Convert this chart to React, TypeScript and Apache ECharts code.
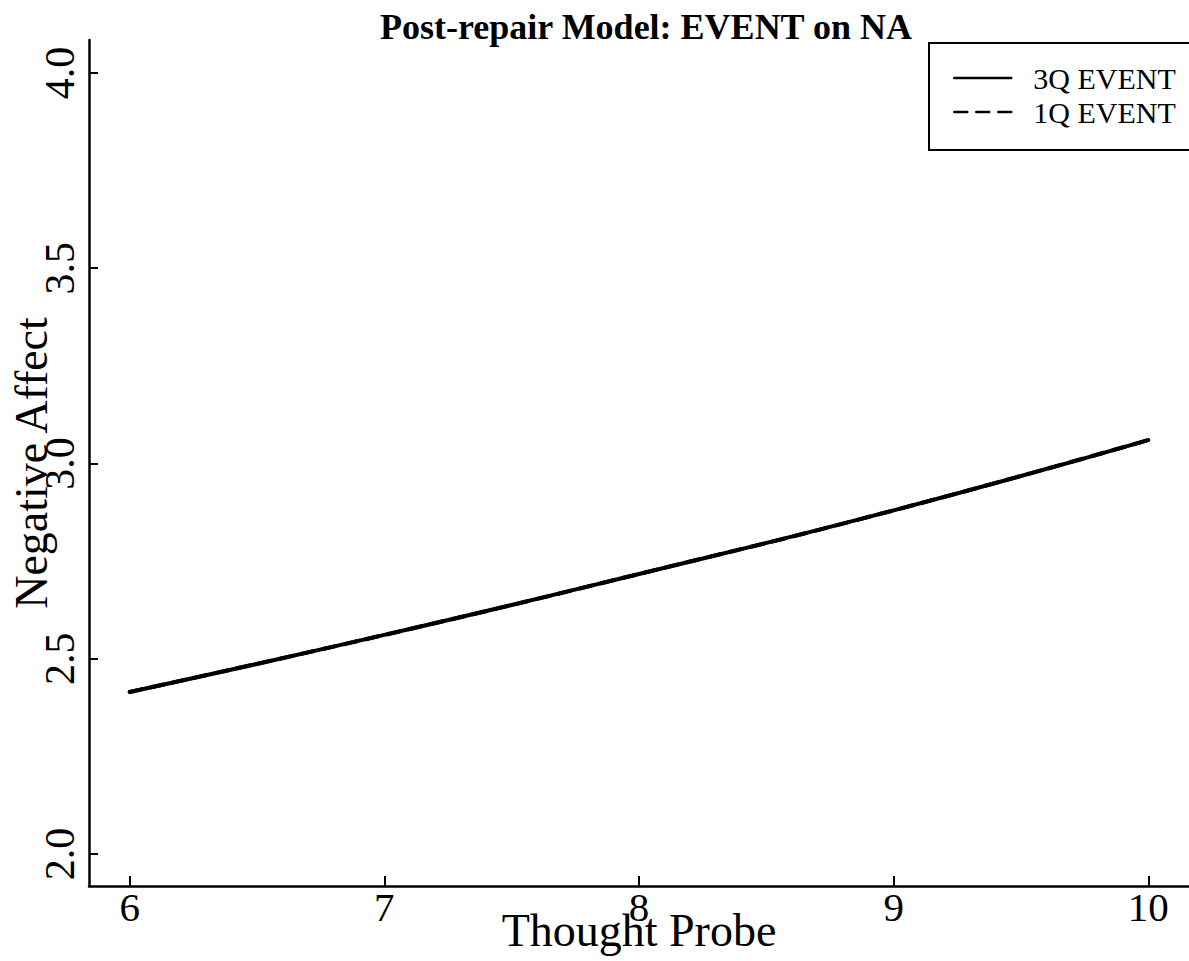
import React, { useEffect, useRef } from "react";
import * as echarts from "echarts";

const titleText = "Post-repair Model: EVENT on NA";
const xName = "Thought Probe";
const yName = "Negative Affect";
const seriesNames = ["3Q EVENT", "1Q EVENT"];
const xValues = [6, 7, 8, 9, 10];
const event3Q = [2.415, 2.561, 2.717, 2.88, 3.06];
const event1Q = [2.415, 2.561, 2.717, 2.88, 3.06];
const xTicks = [6, 7, 8, 9, 10];
const yTicks = [2.0, 2.5, 3.0, 3.5, 4.0];

const FONT = "'Liberation Serif', 'Times New Roman', serif";

export default function App() {
  const ref = useRef<HTMLDivElement>(null);
  useEffect(() => {
    if (!ref.current) return;
    const chart = echarts.init(ref.current, undefined, { renderer: "svg" });
    const pairs = (ys: number[]) => xValues.map((x, i) => [x, ys[i]]);
    const hiddenSymbol = { color: "rgba(0,0,0,0)", borderWidth: 0, opacity: 0 };
    chart.setOption({
      animation: false,
      backgroundColor: "#ffffff",
      textStyle: { fontFamily: FONT, color: "#000" },
      title: {
        text: titleText,
        left: 641,
        textAlign: "center",
        top: 4,
        textStyle: { fontFamily: FONT, fontWeight: "bold", fontSize: 36, color: "#000" },
      },
      legend: {
        orient: "vertical",
        left: 929,
        top: 43,
        padding: [20, 40, 23, 24],
        itemGap: 4,
        itemWidth: 57,
        itemHeight: 14,
        borderColor: "#000",
        borderWidth: 2,
        borderRadius: 0,
        itemStyle: hiddenSymbol,
        textStyle: { fontFamily: FONT, fontSize: 30, color: "#000", padding: [0, 0, 0, 17] },
        data: [
          { name: seriesNames[0], itemStyle: hiddenSymbol, lineStyle: { width: 2.5, color: "#000", type: "solid" } },
          { name: seriesNames[1], itemStyle: hiddenSymbol, lineStyle: { width: 2.5, color: "#000", type: [13, 9] } },
        ],
      },
      grid: { left: 89, right: 0, top: 40, bottom: 75, containLabel: false, outerBoundsMode: "none" },
      xAxis: {
        type: "value",
        min: 5.84,
        max: 10.16,
        name: xName,
        nameLocation: "middle",
        nameGap: 21,
        nameMoveOverlap: false,
        nameTextStyle: { fontFamily: FONT, fontSize: 46, color: "#000" },
        axisLine: { show: true, lineStyle: { color: "#000", width: 2.5 } },
        axisTick: { show: true, inside: true, length: 10, lineStyle: { color: "#000", width: 2 }, customValues: xTicks },
        axisLabel: { fontFamily: FONT, fontSize: 41, color: "#000", margin: 0, customValues: xTicks, formatter: (v: number) => String(v) },
        splitLine: { show: false },
      },
      yAxis: {
        type: "value",
        min: 1.918,
        max: 4.0845,
        name: yName,
        nameLocation: "middle",
        nameGap: 35,
        nameRotate: 90,
        nameMoveOverlap: false,
        nameTextStyle: { fontFamily: FONT, fontSize: 46, color: "#000" },
        axisLine: { show: true, lineStyle: { color: "#000", width: 2.5 } },
        axisTick: { show: true, inside: true, length: 9, lineStyle: { color: "#000", width: 2 }, customValues: yTicks },
        axisLabel: {
          fontFamily: FONT,
          fontSize: 42,
          color: "#000",
          rotate: 90,
          margin: 8,
          customValues: yTicks,
          formatter: (v: number) => v.toFixed(1),
        },
        splitLine: { show: false },
      },
      series: [
        {
          name: seriesNames[1],
          type: "line",
          data: pairs(event1Q),
          showSymbol: false,
          symbol: "none",
          smooth: true,
          lineStyle: { color: "#000", width: 4, type: [13, 9], cap: "round" },
          itemStyle: { color: "#000" },
          z: 2,
        },
        {
          name: seriesNames[0],
          type: "line",
          data: pairs(event3Q),
          showSymbol: false,
          symbol: "none",
          smooth: true,
          lineStyle: { color: "#000", width: 4, type: "solid", cap: "round" },
          itemStyle: { color: "#000" },
          z: 3,
        },
      ],
    });
    return () => chart.dispose();
  }, []);
  return (
    <div
      ref={ref}
      style={{ position: "fixed", left: 0, top: 0, width: 1189, height: 961, background: "#fff" }}
    />
  );
}
